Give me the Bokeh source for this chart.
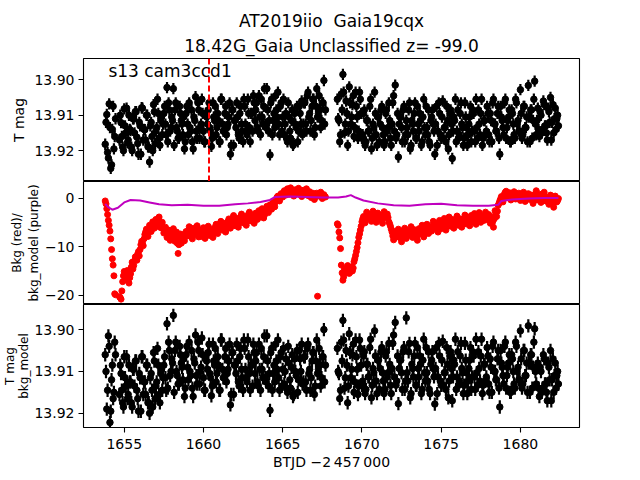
from bokeh.plotting import figure
from bokeh.layouts import column
from bokeh.models import Range1d, Label, Span, FixedTicker, NumeralTickFormatter, ColumnDataSource, Title
from bokeh.embed import file_html
from bokeh.resources import INLINE

FONT = "DejaVu Sans"

# ---------------- data ----------------
title_line1 = "AT2019iio\u00a0 Gaia19cqx"
title_line2 = "18.42G_Gaia Unclassified z= -99.0"
sector_text = "s13 cam3ccd1"
sector_text_t = 1654.0
vline_t = 1660.35
mag_err = 0.0016

# cadence set 1
time_a = [1653.8, 1653.9, 1654.0, 1654.1, 1654.2, 1654.3, 1654.4]
time_b = [1654.7, 1654.8, 1654.9, 1655.0, 1655.1, 1655.2, 1655.3, 1655.4, 1655.5, 1655.6,
          1655.7, 1655.8, 1655.9, 1656.0, 1656.1, 1656.2, 1656.3, 1656.4, 1656.5, 1656.6,
          1656.7, 1656.8, 1656.9, 1657.0, 1657.1, 1657.2, 1657.3, 1657.4, 1657.5, 1657.6,
          1657.7, 1657.8, 1657.9, 1658.0, 1658.1, 1658.2, 1658.3, 1658.4, 1658.5, 1658.6,
          1658.7, 1658.8, 1658.9, 1659.0, 1659.1, 1659.2, 1659.3, 1659.4, 1659.5, 1659.6,
          1659.7, 1659.8, 1659.9, 1660.0, 1660.1, 1660.2, 1660.3, 1660.4, 1660.5, 1660.6,
          1660.7, 1660.8, 1660.9, 1661.0, 1661.1, 1661.2, 1661.3, 1661.4, 1661.5, 1661.6,
          1661.7, 1661.8, 1661.9, 1662.0, 1662.1, 1662.2, 1662.3, 1662.4, 1662.5, 1662.6,
          1662.7, 1662.8, 1662.9, 1663.0, 1663.1, 1663.2, 1663.3, 1663.4, 1663.5, 1663.6,
          1663.7, 1663.8, 1663.9, 1664.0, 1664.1, 1664.2, 1664.3, 1664.4, 1664.5, 1664.6,
          1664.7, 1664.8, 1664.9, 1665.0, 1665.1, 1665.2, 1665.3, 1665.4, 1665.5, 1665.6,
          1665.7, 1665.8, 1665.9, 1666.0, 1666.1, 1666.2, 1666.3, 1666.4, 1666.5, 1666.6,
          1666.7, 1666.8, 1666.9, 1667.0, 1667.1, 1667.2, 1667.3, 1667.4, 1667.5, 1667.6,
          1667.7]
time_c = [1668.5, 1668.6, 1668.7, 1668.8, 1668.9, 1669.0, 1669.1, 1669.2, 1669.3, 1669.4,
          1669.5, 1669.6, 1669.7, 1669.8, 1669.9, 1670.0, 1670.1, 1670.2, 1670.3, 1670.4,
          1670.5, 1670.6, 1670.7, 1670.8, 1670.9, 1671.0, 1671.1, 1671.2, 1671.3, 1671.4,
          1671.5, 1671.6, 1671.7, 1671.8, 1671.9, 1672.0, 1672.1, 1672.2, 1672.3, 1672.4,
          1672.5, 1672.6, 1672.7, 1672.8, 1672.9, 1673.0, 1673.1, 1673.2, 1673.3, 1673.4,
          1673.5, 1673.6, 1673.7, 1673.8, 1673.9, 1674.0, 1674.1, 1674.2, 1674.3, 1674.4,
          1674.5, 1674.6, 1674.7, 1674.8, 1674.9, 1675.0, 1675.1, 1675.2, 1675.3, 1675.4,
          1675.5, 1675.6, 1675.7, 1675.8, 1675.9, 1676.0, 1676.1, 1676.2, 1676.3, 1676.4,
          1676.5, 1676.6, 1676.7, 1676.8, 1676.9, 1677.0, 1677.1, 1677.2, 1677.3, 1677.4,
          1677.5, 1677.6, 1677.7, 1677.8, 1677.9, 1678.0, 1678.1, 1678.2, 1678.3, 1678.4,
          1678.5, 1678.6, 1678.7, 1678.8, 1678.9, 1679.0, 1679.1, 1679.2, 1679.3, 1679.4,
          1679.5, 1679.6, 1679.7, 1679.8, 1679.9, 1680.0, 1680.1, 1680.2, 1680.3, 1680.4,
          1680.5, 1680.6, 1680.7, 1680.8, 1680.9, 1681.0, 1681.1, 1681.2, 1681.3, 1681.4,
          1681.5, 1681.6, 1681.7, 1681.8, 1681.9, 1682.0, 1682.1, 1682.2, 1682.3, 1682.4]

tmag_a = [13.9182, 13.9098, 13.9221, 13.9135, 13.9240, 13.9075, 13.9160]
tmag_b = [13.9170, 13.9121, 13.9190, 13.9082, 13.9150, 13.9178, 13.9100, 13.9143, 13.9200, 13.9110,
          13.9090, 13.9162, 13.9210, 13.9130, 13.9079, 13.9170, 13.9141, 13.9100, 13.9189, 13.9232,
          13.9120, 13.9200, 13.9090, 13.9145, 13.9055, 13.9165, 13.9115, 13.9155, 13.9095, 13.9125,
          13.9022, 13.9065, 13.9145, 13.9105, 13.9025, 13.9085, 13.9135, 13.9165, 13.9075, 13.9115,
          13.9155, 13.9195, 13.9095, 13.9125, 13.9065, 13.9145, 13.9175, 13.9105, 13.9048, 13.9165,
          13.9085, 13.9135, 13.9055, 13.9145, 13.9175, 13.9105, 13.9085, 13.9135, 13.9188, 13.9065,
          13.9115, 13.9155, 13.9095, 13.9175, 13.9055, 13.9125, 13.9145, 13.9075, 13.9135, 13.9105,
          13.9210, 13.9085, 13.9185, 13.9115, 13.9065, 13.9155, 13.9095, 13.9125, 13.9175, 13.9075,
          13.9145, 13.9055, 13.9135, 13.9095, 13.9145, 13.9065, 13.9085, 13.9135, 13.9045, 13.9155,
          13.9105, 13.9075, 13.9125, 13.9025, 13.9145, 13.9212, 13.9055, 13.9115, 13.9135, 13.9085,
          13.9035, 13.9155, 13.9065, 13.9105, 13.9155, 13.9095, 13.9175, 13.9105, 13.9165, 13.9085,
          13.9180, 13.9125, 13.9075, 13.9145, 13.9095, 13.9060, 13.9125, 13.9065, 13.9145, 13.9035,
          13.9095, 13.9115, 13.9055, 13.9155, 13.9075, 13.9105, 13.9045, 13.9135, 13.9065, 13.9002,
          13.9085]
tmag_c = [13.9110, 13.9175, 13.9040, 13.8985, 13.9150, 13.9060, 13.9185, 13.9020, 13.9125, 13.9070,
          13.9160, 13.9035, 13.9105, 13.9145, 13.9055, 13.9165, 13.9095, 13.9185, 13.9115, 13.9145,
          13.9075, 13.9195, 13.9125, 13.9035, 13.9155, 13.9105, 13.9175, 13.9085, 13.9135, 13.9185,
          13.9095, 13.9145, 13.9065, 13.9165, 13.9125, 13.9045, 13.9015, 13.9155, 13.9218, 13.9105,
          13.9135, 13.9085, 13.9175, 13.9115, 13.9155, 13.9065, 13.9185, 13.9125, 13.9095, 13.9165,
          13.9075, 13.9145, 13.9115, 13.9175, 13.9055, 13.9155, 13.9135, 13.9085, 13.9185, 13.9105,
          13.9125, 13.9210, 13.9075, 13.9145, 13.9095, 13.9165, 13.9060, 13.9135, 13.9175, 13.9115,
          13.9155, 13.9085, 13.9222, 13.9105, 13.9055, 13.9145, 13.9165, 13.9095, 13.9125, 13.9185,
          13.9065, 13.9135, 13.9155, 13.9105, 13.9175, 13.9085, 13.9145, 13.9055, 13.9165, 13.9125,
          13.9095, 13.9185, 13.9115, 13.9155, 13.9075, 13.9155, 13.9095, 13.9175, 13.9055, 13.9125,
          13.9145, 13.9075, 13.9210, 13.9105, 13.9135, 13.9065, 13.9165, 13.9115, 13.9085, 13.9175,
          13.9095, 13.9155, 13.9055, 13.9125, 13.9145, 13.9028, 13.9165, 13.9075, 13.9135, 13.9105,
          13.9016, 13.9175, 13.9085, 13.9115, 13.9004, 13.9155, 13.9080, 13.9160, 13.9100, 13.9140,
          13.9070, 13.9130, 13.9170, 13.9090, 13.9050, 13.9120, 13.9150, 13.9080, 13.9110, 13.9130]

bkg_a = [-0.6, -2.2, -4.6, -6.8, -10.6, -13.8, -19.7]
bkg_b = [-20.3, -20.8, -17.2, -15.1, -16.8, -14.9, -17.5, -15.6, -13.2, -13.9,
         -12.1, -12.8, -11.0, -10.6, -8.9, -9.8, -7.5, -6.4, -7.9, -5.6,
         -6.9, -4.9, -6.2, -4.4, -5.8, -3.9, -6.1, -5.0, -7.2, -6.0,
         -8.1, -6.6, -8.7, -7.4, -6.3, -8.9, -7.0, -11.4, -8.2, -9.3,
         -7.6, -8.8, -6.9, -7.8, -5.9, -7.1, -8.4, -6.2, -7.5, -5.7,
         -8.0, -6.6, -7.9, -6.1, -8.3, -7.0, -5.8, -7.7, -6.4, -8.1,
         -6.7, -5.4, -7.3, -6.0, -4.8, -6.6, -5.2, -7.0, -5.5, -4.3,
         -6.2, -4.9, -3.6, -5.7, -4.2, -6.0, -4.6, -3.3, -5.1, -3.8,
         -5.6, -4.0, -2.9, -4.7, -3.5, -5.2, -3.1, -4.4, -2.6, -3.9,
         -2.2, -4.1, -2.8, -1.7, -3.0, -1.4, -2.3, -0.9, -1.8, -0.2,
         0.4, -0.6, 0.9, 0.2, 1.5, 0.6, 1.9, 0.8, 2.1, 1.2,
         0.4, 1.7, 0.9, 2.0, 1.1, 0.3, 1.6, 0.7, 1.9, 0.5,
         1.3, 0.1, 1.0, -0.3, 0.8, -20.2, 0.4, 1.2, -0.1, 0.7,
         0.2]
bkg_c = [-5.6, -8.2, -13.8, -16.9, -14.6, -15.3, -13.9, -15.5, -14.2, -15.0,
         -13.1, -11.8, -10.2, -8.1, -6.6, -4.9, -3.8, -5.1, -2.9, -4.2,
         -3.4, -4.8, -2.7, -3.9, -5.0, -3.1, -4.5, -3.6, -5.2, -2.8,
         -4.0, -3.3, -4.9, -5.8, -7.0, -8.6, -6.9, -8.0, -6.4, -7.7,
         -9.0, -7.1, -6.2, -8.3, -6.8, -7.6, -5.9, -8.1, -6.5, -7.4,
         -8.7, -6.3, -7.2, -5.6, -8.0, -6.7, -5.4, -7.3, -5.9, -6.8,
         -4.8, -6.1, -5.2, -7.0, -4.6, -6.3, -5.5, -4.2, -6.6, -5.0,
         -3.9, -5.8, -4.4, -6.2, -5.1, -3.7, -5.6, -4.3, -6.0, -4.8,
         -3.5, -5.3, -4.0, -5.7, -3.6, -4.9, -3.2, -5.4, -4.1, -3.0,
         -5.0, -3.7, -4.6, -2.9, -4.4, -3.4, -5.2, -3.9, -6.0, -2.6,
         -3.8, -1.5, -0.6, 0.3, -0.8, 0.9, 1.4, 0.2, 1.1, -0.4,
         0.7, 1.3, -0.2, 0.5, 1.0, -0.5, 0.4, 1.2, -0.7, 0.1,
         0.9, -0.3, 0.6, -1.1, 0.2, 1.5, -0.4, 0.8, -0.9, 0.3,
         1.2, -0.6, 0.0, -1.3, 0.6, -0.2, -1.9, 0.4, -0.8, -0.1]

corr_a = [13.9060, 13.9190, 13.9015, 13.9222, 13.9120, 13.9165, 13.9030]
corr_b = [13.9155, 13.9105, 13.9175, 13.9065, 13.9135, 13.9165, 13.9085, 13.9125, 13.9185, 13.9095,
          13.9075, 13.9145, 13.9195, 13.9115, 13.9065, 13.9155, 13.9125, 13.9085, 13.9175, 13.9200,
          13.9105, 13.9185, 13.9075, 13.9135, 13.9045, 13.9155, 13.9105, 13.9145, 13.9085, 13.9115,
          13.8986, 13.9030, 13.9110, 13.9070, 13.8966, 13.9050, 13.9100, 13.9130, 13.9040, 13.9080,
          13.9120, 13.9160, 13.9060, 13.9090, 13.9030, 13.9110, 13.9140, 13.9070, 13.9013, 13.9130,
          13.9050, 13.9100, 13.9020, 13.9115, 13.9145, 13.9075, 13.9055, 13.9105, 13.9158, 13.9035,
          13.9085, 13.9125, 13.9065, 13.9145, 13.9025, 13.9095, 13.9115, 13.9045, 13.9105, 13.9075,
          13.9180, 13.9055, 13.9155, 13.9085, 13.9035, 13.9125, 13.9065, 13.9095, 13.9145, 13.9045,
          13.9115, 13.9025, 13.9105, 13.9085, 13.9135, 13.9055, 13.9075, 13.9125, 13.9035, 13.9145,
          13.9095, 13.9065, 13.9115, 13.9015, 13.9135, 13.9193, 13.9045, 13.9105, 13.9125, 13.9075,
          13.9025, 13.9145, 13.9055, 13.9095, 13.9130, 13.9070, 13.9150, 13.9080, 13.9140, 13.9060,
          13.9155, 13.9100, 13.9050, 13.9120, 13.9070, 13.9035, 13.9125, 13.9065, 13.9145, 13.9035,
          13.9095, 13.9115, 13.9055, 13.9155, 13.9075, 13.9105, 13.9045, 13.9135, 13.9065, 13.9000,
          13.9085]
corr_c = [13.9100, 13.9165, 13.9030, 13.8978, 13.9140, 13.9050, 13.9175, 13.9010, 13.9115, 13.9060,
          13.9150, 13.9025, 13.9095, 13.9135, 13.9045, 13.9133, 13.9063, 13.9153, 13.9083, 13.9113,
          13.9043, 13.9163, 13.9093, 13.9003, 13.9123, 13.9073, 13.9143, 13.9053, 13.9103, 13.9153,
          13.9063, 13.9113, 13.9033, 13.9133, 13.9093, 13.9013, 13.8983, 13.9123, 13.9177, 13.9073,
          13.9103, 13.9053, 13.9143, 13.8972, 13.9123, 13.9033, 13.9153, 13.9093, 13.9063, 13.9133,
          13.9043, 13.9113, 13.9083, 13.9143, 13.9023, 13.9123, 13.9103, 13.9053, 13.9153, 13.9073,
          13.9093, 13.9178, 13.9043, 13.9113, 13.9063, 13.9133, 13.9028, 13.9103, 13.9143, 13.9083,
          13.9123, 13.9053, 13.9170, 13.9073, 13.9023, 13.9113, 13.9133, 13.9063, 13.9093, 13.9153,
          13.9033, 13.9103, 13.9123, 13.9073, 13.9143, 13.9053, 13.9113, 13.9023, 13.9133, 13.9093,
          13.9063, 13.9153, 13.9083, 13.9123, 13.9043, 13.9130, 13.9070, 13.9150, 13.9030, 13.9100,
          13.9120, 13.9050, 13.9185, 13.9080, 13.9110, 13.9040, 13.9140, 13.9090, 13.9060, 13.9150,
          13.9070, 13.9130, 13.9030, 13.9100, 13.9120, 13.9003, 13.9140, 13.9050, 13.9110, 13.9080,
          13.8991, 13.9150, 13.9060, 13.9090, 13.8998, 13.9130, 13.9080, 13.9160, 13.9100, 13.9140,
          13.9070, 13.9130, 13.9170, 13.9090, 13.9050, 13.9120, 13.9150, 13.9080, 13.9110, 13.9130]

# cadence set 2 (points in between)
time_a2 = [1653.85, 1653.95, 1654.05, 1654.15, 1654.25, 1654.35, 1654.45]
time_b2 = [1654.75, 1654.85, 1654.95, 1655.05, 1655.15, 1655.25, 1655.35, 1655.45, 1655.55, 1655.65,
           1655.75, 1655.85, 1655.95, 1656.05, 1656.15, 1656.25, 1656.35, 1656.45, 1656.55, 1656.65,
           1656.75, 1656.85, 1656.95, 1657.05, 1657.15, 1657.25, 1657.35, 1657.45, 1657.55, 1657.65,
           1657.75, 1657.85, 1657.95, 1658.05, 1658.15, 1658.25, 1658.35, 1658.45, 1658.55, 1658.65,
           1658.75, 1658.85, 1658.95, 1659.05, 1659.15, 1659.25, 1659.35, 1659.45, 1659.55, 1659.65,
           1659.75, 1659.85, 1659.95, 1660.05, 1660.15, 1660.25, 1660.35, 1660.45, 1660.55, 1660.65,
           1660.75, 1660.85, 1660.95, 1661.05, 1661.15, 1661.25, 1661.35, 1661.45, 1661.55, 1661.65,
           1661.75, 1661.85, 1661.95, 1662.05, 1662.15, 1662.25, 1662.35, 1662.45, 1662.55, 1662.65,
           1662.75, 1662.85, 1662.95, 1663.05, 1663.15, 1663.25, 1663.35, 1663.45, 1663.55, 1663.65,
           1663.75, 1663.85, 1663.95, 1664.05, 1664.15, 1664.25, 1664.35, 1664.45, 1664.55, 1664.65,
           1664.75, 1664.85, 1664.95, 1665.05, 1665.15, 1665.25, 1665.35, 1665.45, 1665.55, 1665.65,
           1665.75, 1665.85, 1665.95, 1666.05, 1666.15, 1666.25, 1666.35, 1666.45, 1666.55, 1666.65,
           1666.75, 1666.85, 1666.95, 1667.05, 1667.15, 1667.25, 1667.35, 1667.45, 1667.55, 1667.65]
time_c2 = [1668.45, 1668.55, 1668.65, 1668.75, 1668.85, 1668.95, 1669.05, 1669.15, 1669.25, 1669.35,
           1669.45, 1669.55, 1669.65, 1669.75, 1669.85, 1669.95, 1670.05, 1670.15, 1670.25, 1670.35,
           1670.45, 1670.55, 1670.65, 1670.75, 1670.85, 1670.95, 1671.05, 1671.15, 1671.25, 1671.35,
           1671.45, 1671.55, 1671.65, 1671.75, 1671.85, 1671.95, 1672.05, 1672.15, 1672.25, 1672.35,
           1672.45, 1672.55, 1672.65, 1672.75, 1672.85, 1672.95, 1673.05, 1673.15, 1673.25, 1673.35,
           1673.45, 1673.55, 1673.65, 1673.75, 1673.85, 1673.95, 1674.05, 1674.15, 1674.25, 1674.35,
           1674.45, 1674.55, 1674.65, 1674.75, 1674.85, 1674.95, 1675.05, 1675.15, 1675.25, 1675.35,
           1675.45, 1675.55, 1675.65, 1675.75, 1675.85, 1675.95, 1676.05, 1676.15, 1676.25, 1676.35,
           1676.45, 1676.55, 1676.65, 1676.75, 1676.85, 1676.95, 1677.05, 1677.15, 1677.25, 1677.35,
           1677.45, 1677.55, 1677.65, 1677.75, 1677.85, 1677.95, 1678.05, 1678.15, 1678.25, 1678.35,
           1678.45, 1678.55, 1678.65, 1678.75, 1678.85, 1678.95, 1679.05, 1679.15, 1679.25, 1679.35,
           1679.45, 1679.55, 1679.65, 1679.75, 1679.85, 1679.95, 1680.05, 1680.15, 1680.25, 1680.35,
           1680.45, 1680.55, 1680.65, 1680.75, 1680.85, 1680.95, 1681.05, 1681.15, 1681.25, 1681.35,
           1681.45, 1681.55, 1681.65, 1681.75, 1681.85, 1681.95, 1682.05, 1682.15, 1682.25, 1682.35]

tmag_a2 = [13.9120, 13.9205, 13.9068, 13.9250, 13.9140, 13.9195, 13.9110]
tmag_b2 = [13.9100, 13.9160, 13.9200, 13.9130, 13.9080, 13.9170, 13.9140, 13.9190, 13.9110, 13.9150,
           13.9090, 13.9180, 13.9120, 13.9210, 13.9080, 13.9140, 13.9170, 13.9100, 13.9190, 13.9130,
           13.9160, 13.9070, 13.9180, 13.9135, 13.9095, 13.9185, 13.9105, 13.9125, 13.9075, 13.9155,
           13.9175, 13.9085, 13.9135, 13.9115, 13.9185, 13.9065, 13.9145, 13.9165, 13.9095, 13.9125,
           13.9105, 13.9175, 13.9075, 13.9155, 13.9135, 13.9085, 13.9195, 13.9115, 13.9145, 13.9065,
           13.9165, 13.9125, 13.9095, 13.9175, 13.9095, 13.9125, 13.9065, 13.9145, 13.9165, 13.9105,
           13.9075, 13.9135, 13.9115, 13.9175, 13.9055, 13.9145, 13.9095, 13.9155, 13.9125, 13.9065,
           13.9185, 13.9085, 13.9115, 13.9135, 13.9105, 13.9165, 13.9075, 13.9145, 13.9055, 13.9125,
           13.9155, 13.9095, 13.9175, 13.9095, 13.9045, 13.9115, 13.9065, 13.9145, 13.9105, 13.9055,
           13.9125, 13.9025, 13.9135, 13.9085, 13.9115, 13.9065, 13.9155, 13.9095, 13.9045, 13.9105,
           13.9125, 13.9075, 13.9145, 13.9055, 13.9125, 13.9165, 13.9065, 13.9145, 13.9115, 13.9185,
           13.9095, 13.9135, 13.9175, 13.9075, 13.9125, 13.9155, 13.9065, 13.9125, 13.9045, 13.9105,
           13.9145, 13.9075, 13.9055, 13.9135, 13.9025, 13.9095, 13.9085, 13.9115, 13.9065, 13.9125]
tmag_c2 = [13.9055, 13.9115, 13.9155, 13.9085, 13.9035, 13.9125, 13.9095, 13.9145, 13.9065, 13.9105,
           13.9045, 13.9135, 13.9075, 13.9165, 13.9035, 13.9095, 13.9155, 13.9085, 13.9175, 13.9115,
           13.9145, 13.9055, 13.9165, 13.9135, 13.9095, 13.9185, 13.9105, 13.9125, 13.9075, 13.9155,
           13.9175, 13.9085, 13.9135, 13.9115, 13.9185, 13.9065, 13.9145, 13.9165, 13.9095, 13.9125,
           13.9105, 13.9175, 13.9075, 13.9155, 13.9135, 13.9085, 13.9195, 13.9115, 13.9145, 13.9065,
           13.9165, 13.9125, 13.9095, 13.9185, 13.9105, 13.9135, 13.9075, 13.9155, 13.9175, 13.9115,
           13.9085, 13.9145, 13.9125, 13.9185, 13.9065, 13.9155, 13.9105, 13.9165, 13.9135, 13.9075,
           13.9195, 13.9095, 13.9125, 13.9145, 13.9115, 13.9175, 13.9085, 13.9155, 13.9065, 13.9135,
           13.9165, 13.9105, 13.9185, 13.9125, 13.9075, 13.9145, 13.9095, 13.9175, 13.9135, 13.9085,
           13.9155, 13.9055, 13.9165, 13.9115, 13.9145, 13.9095, 13.9175, 13.9115, 13.9065, 13.9125,
           13.9145, 13.9095, 13.9165, 13.9075, 13.9115, 13.9155, 13.9055, 13.9135, 13.9105, 13.9175,
           13.9085, 13.9125, 13.9165, 13.9065, 13.9115, 13.9145, 13.9095, 13.9155, 13.9075, 13.9135,
           13.9175, 13.9105, 13.9085, 13.9165, 13.9055, 13.9125, 13.9115, 13.9140, 13.9090, 13.9150,
           13.9060, 13.9130, 13.9150, 13.9080, 13.9120, 13.9170, 13.9070, 13.9110, 13.9140, 13.9100]

bkg_a2 = [-1.2, -3.4, -5.6, -8.4, -12.5, -16.0, -19.9]
bkg_b2 = [-20.5, -19.1, -16.0, -16.2, -15.8, -16.3, -16.4, -14.2, -14.6, -12.9,
          -12.6, -11.5, -11.9, -9.6, -9.2, -8.4, -7.0, -7.3, -6.5, -6.3,
          -5.7, -5.8, -5.1, -5.3, -4.6, -5.2, -5.4, -6.3, -6.4, -7.0,
          -7.2, -7.8, -7.9, -6.8, -7.7, -8.0, -9.3, -9.6, -7.4, -8.5,
          -8.3, -7.6, -7.3, -6.7, -6.6, -7.8, -7.0, -6.9, -6.5, -6.9,
          -7.2, -7.4, -6.8, -7.3, -7.5, -6.3, -6.9, -6.8, -7.3, -7.2,
          -5.9, -6.5, -6.4, -5.3, -5.6, -6.0, -6.2, -6.1, -4.8, -5.3,
          -5.4, -4.1, -4.7, -4.8, -5.2, -5.1, -3.8, -4.3, -4.5, -4.6,
          -4.7, -3.3, -3.9, -4.0, -4.5, -4.0, -3.7, -3.4, -3.3, -2.9,
          -3.2, -3.5, -2.1, -2.4, -2.1, -1.9, -1.5, -1.3, -0.8, 0.2,
          -0.2, 0.2, 0.5, 1.0, 1.2, 1.3, 1.2, 1.5, 1.6, 0.7,
          1.1, 1.4, 1.5, 1.6, 0.6, 1.0, 1.2, 1.3, 1.1, 0.9,
          0.6, 0.5, 0.3, 0.2, 1.0, 0.8, 0.8, 0.5, 0.3, 0.4]
bkg_c2 = [-5.3, -7.0, -10.4, -15.4, -16.2, -14.8, -14.6, -14.8, -15.2, -14.3,
          -14.4, -12.5, -11.0, -9.2, -7.4, -5.8, -4.3, -4.6, -3.8, -3.6,
          -3.9, -4.1, -3.6, -3.2, -4.4, -4.1, -3.7, -4.0, -4.3, -4.1,
          -3.5, -3.7, -4.0, -5.3, -6.4, -7.8, -7.6, -7.5, -7.2, -7.1,
          -8.3, -8.0, -6.6, -7.2, -7.6, -7.2, -6.8, -7.0, -7.3, -6.9,
          -8.0, -7.5, -6.7, -6.4, -6.8, -7.4, -6.0, -6.3, -6.6, -6.3,
          -5.8, -5.4, -5.7, -6.1, -5.8, -5.5, -5.9, -4.9, -5.4, -5.8,
          -4.5, -4.9, -5.1, -5.3, -5.6, -4.4, -4.6, -5.0, -5.1, -5.4,
          -4.2, -4.4, -4.7, -4.9, -4.7, -4.3, -4.1, -4.3, -4.8, -3.6,
          -4.0, -4.4, -4.2, -3.8, -3.7, -3.9, -4.3, -4.6, -4.9, -4.3,
          -3.2, -2.7, -1.1, -0.2, -0.3, 0.1, 1.2, 0.8, 0.6, 0.4,
          0.2, 1.0, 0.6, 0.1, 0.8, 0.3, -0.1, 0.8, 0.3, -0.3,
          0.5, 0.3, 0.2, -0.3, -0.5, 0.9, 0.6, 0.2, -0.1, -0.3,
          0.7, 0.3, -0.3, -0.7, -0.4, 0.2, -1.1, -0.8, -0.2, -0.5]

corr_a2 = [13.9100, 13.9145, 13.9040, 13.9195, 13.9085, 13.9150, 13.9060]
corr_b2 = [13.9085, 13.9145, 13.9185, 13.9115, 13.9065, 13.9155, 13.9125, 13.9175, 13.9095, 13.9135,
           13.9075, 13.9165, 13.9105, 13.9195, 13.9065, 13.9125, 13.9155, 13.9085, 13.9175, 13.9115,
           13.9145, 13.9055, 13.9165, 13.9125, 13.9085, 13.9175, 13.9095, 13.9115, 13.9065, 13.9145,
           13.9140, 13.9050, 13.9100, 13.9080, 13.9150, 13.9030, 13.9110, 13.9130, 13.9060, 13.9090,
           13.9070, 13.9140, 13.9040, 13.9120, 13.9100, 13.9050, 13.9160, 13.9080, 13.9110, 13.9030,
           13.9130, 13.9090, 13.9060, 13.9145, 13.9065, 13.9095, 13.9035, 13.9115, 13.9135, 13.9075,
           13.9045, 13.9105, 13.9085, 13.9145, 13.9025, 13.9115, 13.9065, 13.9125, 13.9095, 13.9035,
           13.9155, 13.9055, 13.9085, 13.9105, 13.9075, 13.9135, 13.9045, 13.9115, 13.9025, 13.9095,
           13.9125, 13.9065, 13.9145, 13.9085, 13.9035, 13.9105, 13.9055, 13.9135, 13.9095, 13.9045,
           13.9115, 13.9015, 13.9125, 13.9075, 13.9105, 13.9055, 13.9145, 13.9085, 13.9035, 13.9095,
           13.9115, 13.9065, 13.9135, 13.9045, 13.9100, 13.9140, 13.9040, 13.9120, 13.9090, 13.9160,
           13.9070, 13.9110, 13.9150, 13.9050, 13.9100, 13.9130, 13.9065, 13.9125, 13.9045, 13.9105,
           13.9145, 13.9075, 13.9055, 13.9135, 13.9025, 13.9095, 13.9085, 13.9115, 13.9065, 13.9125]
corr_c2 = [13.9045, 13.9105, 13.9145, 13.9075, 13.9025, 13.9115, 13.9085, 13.9135, 13.9055, 13.9095,
           13.9035, 13.9125, 13.9065, 13.9155, 13.9025, 13.9085, 13.9123, 13.9053, 13.9143, 13.9083,
           13.9113, 13.9023, 13.9133, 13.9103, 13.9063, 13.9153, 13.9073, 13.9093, 13.9043, 13.9123,
           13.9143, 13.9053, 13.9103, 13.9083, 13.9153, 13.9033, 13.9113, 13.9133, 13.9063, 13.9093,
           13.9073, 13.9143, 13.9043, 13.9123, 13.9103, 13.9053, 13.9163, 13.9083, 13.9113, 13.9033,
           13.9133, 13.9093, 13.9063, 13.9153, 13.9073, 13.9103, 13.9043, 13.9123, 13.9143, 13.9083,
           13.9053, 13.9113, 13.9093, 13.9153, 13.9033, 13.9123, 13.9073, 13.9133, 13.9103, 13.9043,
           13.9163, 13.9063, 13.9093, 13.9113, 13.9083, 13.9143, 13.9053, 13.9123, 13.9033, 13.9103,
           13.9133, 13.9073, 13.9153, 13.9093, 13.9043, 13.9113, 13.9063, 13.9143, 13.9103, 13.9053,
           13.9123, 13.9023, 13.9133, 13.9083, 13.9113, 13.9063, 13.9150, 13.9090, 13.9040, 13.9100,
           13.9120, 13.9070, 13.9140, 13.9050, 13.9090, 13.9130, 13.9030, 13.9110, 13.9080, 13.9150,
           13.9060, 13.9100, 13.9140, 13.9040, 13.9090, 13.9120, 13.9070, 13.9130, 13.9050, 13.9110,
           13.9150, 13.9080, 13.9060, 13.9140, 13.9030, 13.9100, 13.9090, 13.9140, 13.9090, 13.9150,
           13.9060, 13.9130, 13.9150, 13.9080, 13.9120, 13.9170, 13.9070, 13.9110, 13.9140, 13.9100]

# bkg_model (purple line, middle panel)
model_time = [1653.8, 1654.0, 1654.25, 1654.6, 1655.0, 1655.4, 1656.0, 1656.6, 1657.2, 1658.0,
              1659.0, 1660.0, 1661.0, 1662.0, 1662.8, 1663.6, 1664.2, 1664.5, 1665.5, 1666.5,
              1667.5, 1668.5, 1669.0, 1669.3, 1669.6, 1670.1, 1671.0, 1672.0, 1673.0, 1674.0,
              1675.0, 1676.0, 1677.0, 1678.0, 1678.6, 1678.8, 1679.5, 1680.5, 1681.5, 1682.4]
model_val = [-1.2, -1.9, -2.4, -2.0, -0.9, -0.4, -0.5, -0.9, -1.3, -1.5,
             -1.4, -1.6, -1.6, -1.3, -1.1, -0.8, -0.4, 0.2, 0.3, 0.2,
             0.1, 0.1, 0.3, 0.6, 0.1, -0.5, -1.1, -1.5, -1.6, -1.3,
             -1.2, -1.5, -1.6, -1.6, -1.4, -0.6, -0.3, -0.1, 0.0, 0.0]

x_ticks = [1655, 1660, 1665, 1670, 1675, 1680]
mag_ticks = [13.90, 13.91, 13.92]
bkg_ticks = [-20, -10, 0]
bkg_tick_labels = {-20: "\u221220", -10: "\u221210", 0: "0"}
x_label = "BTJD \u22122\u2009457\u2009000"
ylabel_1 = "T mag"
ylabel_2 = "Bkg (red)/\nbkg_model (purple)"
ylabel_3 = "T mag\nbkg_model"

# ---------------- build ----------------
time = time_a + time_b + time_c + time_a2 + time_b2 + time_c2
tmag = tmag_a + tmag_b + tmag_c + tmag_a2 + tmag_b2 + tmag_c2
bkg = bkg_a + bkg_b + bkg_c + bkg_a2 + bkg_b2 + bkg_c2
corr = corr_a + corr_b + corr_c + corr_a2 + corr_b2 + corr_c2

FW, FH = 496, 123
X0, X1 = 1652.43, 1683.73
xr = Range1d(X0, X1)


def y_at(rng, px_from_top):
    return rng.end + (rng.start - rng.end) * px_from_top / FH


def make_fig(yr, top_border, bottom_border, with_x_axis, ylabel, label_standoff, line_h, label_size):
    kw = dict(frame_width=FW, frame_height=FH, x_range=xr, y_range=yr,
              output_backend="svg", toolbar_location=None,
              min_border_left=80, min_border_right=24,
              min_border_top=top_border, min_border_bottom=bottom_border,
              background_fill_color="white", border_fill_color="white")
    if not with_x_axis:
        kw["x_axis_location"] = None
    p = figure(**kw)
    p.grid.visible = False
    p.outline_line_color = "black"
    p.outline_line_width = 1.1
    p.outline_line_alpha = 1.0
    ax = p.yaxis[0]
    ax.major_tick_out = 5
    ax.major_tick_in = 0
    ax.minor_tick_line_color = None
    ax.major_tick_line_width = 1.1
    ax.axis_line_color = None
    ax.major_label_standoff = 4
    ax.major_label_text_font = FONT
    ax.major_label_text_font_size = "14px"
    ax.major_label_text_color = "black"
    ax.axis_label = ylabel
    ax.axis_label_text_font = FONT
    ax.axis_label_text_font_size = label_size
    ax.axis_label_text_font_style = "normal"
    ax.axis_label_text_color = "black"
    ax.axis_label_standoff = label_standoff
    ax.axis_label_text_line_height = line_h
    return p


def mag_panel(p, t, y):
    src = ColumnDataSource(dict(t=t, y=y, lo=[v - mag_err for v in y], hi=[v + mag_err for v in y]))
    p.segment(x0="t", y0="lo", x1="t", y1="hi", source=src, line_color="black", line_width=2.2)
    p.scatter(x="t", y="y", source=src, size=6.5, marker="circle", color="black")
    p.yaxis[0].ticker = FixedTicker(ticks=mag_ticks)
    p.yaxis[0].formatter = NumeralTickFormatter(format="0.00")


# ---- panel 1: T mag
yr1 = Range1d(13.9287, 13.8940)
p1 = make_fig(yr1, 58, 0, False, ylabel_1, 4, 1.2, "14px")
mag_panel(p1, time, tmag)
p1.add_layout(Span(location=vline_t, dimension="height", line_color="red",
                   line_width=2, line_dash="6 3"))
p1.add_layout(Title(text=title_line2, align="center", text_font=FONT, text_font_size="17px",
                    text_font_style="normal", text_color="black", standoff=6), "above")
p1.add_layout(Title(text=title_line1, align="center", text_font=FONT, text_font_size="17px",
                    text_font_style="normal", text_color="black", standoff=0), "above")
p1.add_layout(Label(x=sector_text_t, y=y_at(yr1, 12), text=sector_text, text_align="left",
                    text_baseline="alphabetic", text_font=FONT, text_font_size="17px",
                    text_color="black"))

# ---- panel 2: Bkg / bkg_model
yr2 = Range1d(-21.9, 3.4)
p2 = make_fig(yr2, 0, 0, False, ylabel_2, 1, 1.2, "12px")
p2.scatter(x=time, y=bkg, size=6, marker="circle", color="red")
p2.line(x=model_time, y=model_val, line_color="#bf00bf", line_width=2)
p2.yaxis[0].ticker = FixedTicker(ticks=bkg_ticks)
p2.yaxis[0].major_label_overrides = bkg_tick_labels

# ---- panel 3: T mag - bkg_model
yr3 = Range1d(13.9234, 13.8940)
p3 = make_fig(yr3, 0, 46, True, ylabel_3, 0, 1.0, "12px")
mag_panel(p3, time, corr)

xa = p3.xaxis[0]
xa.ticker = FixedTicker(ticks=x_ticks)
xa.major_tick_out = 5
xa.major_tick_in = 0
xa.major_tick_line_width = 1.1
xa.minor_tick_line_color = None
xa.axis_line_color = None
xa.major_label_standoff = 6
xa.major_label_text_font = FONT
xa.major_label_text_font_size = "14px"
xa.major_label_text_color = "black"
xa.axis_label = x_label
xa.axis_label_text_font = FONT
xa.axis_label_text_font_size = "14px"
xa.axis_label_text_font_style = "normal"
xa.axis_label_text_color = "black"
xa.axis_label_standoff = 2

layout = column(p1, p2, p3)
open("out.html", "w").write(file_html(layout, INLINE))
